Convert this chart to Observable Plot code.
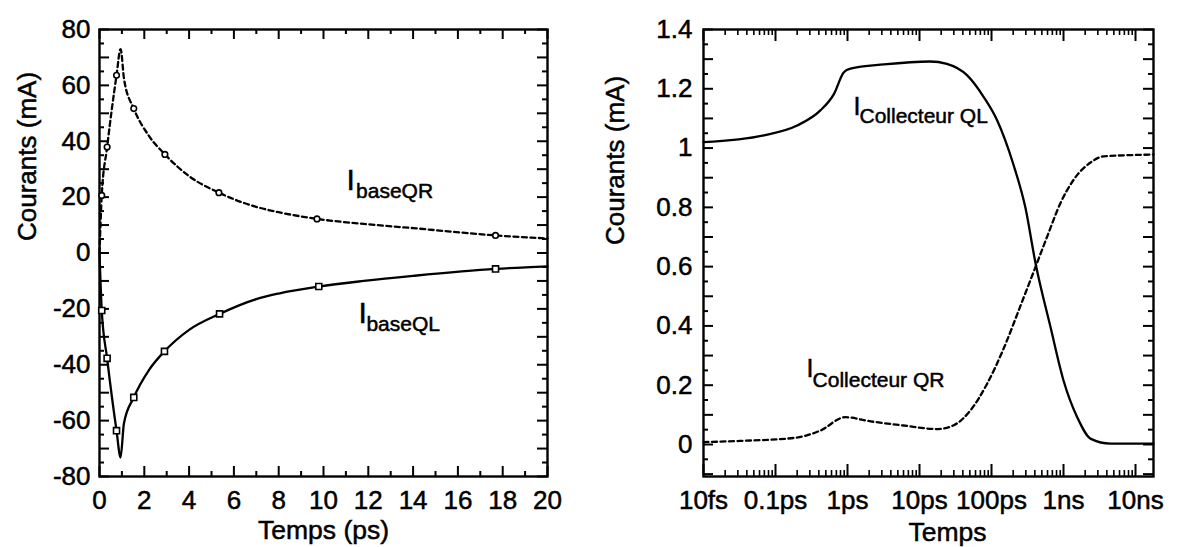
<!DOCTYPE html>
<html><head><meta charset="utf-8">
<script src="https://cdn.jsdelivr.net/npm/d3@7"></script>
<script src="https://cdn.jsdelivr.net/npm/@observablehq/plot@0.6"></script>
<style>
body{margin:0;background:#fff;}
#wrap{display:flex;width:1179px;height:547px;overflow:hidden;}
svg text{stroke:black;stroke-width:0.5px;}
</style></head><body><div id="wrap"></div>
<script>
// ---------- Left panel data (Temps in ps, Courants in mA) ----------
const qrLineX = [0, 0.1, 0.34, 0.76, 0.94, 1.1, 1.53, 2.2, 2.92, 4.0, 5.33, 7.0, 8.0, 9.71, 11.8, 14.0, 17.68, 20];
const qrLineY = [0, 20.6, 37.9, 63.6, 73.0, 62.0, 51.7, 42.0, 35.3, 27.5, 21.6, 16.5, 14.6, 12.2, 10.4, 8.9, 6.3, 5.2];
const qlLineX = [0, 0.1, 0.34, 0.76, 0.94, 1.09, 1.53, 2.2, 2.9, 4.0, 5.36, 7.0, 8.0, 9.79, 11.8, 14.0, 17.68, 20];
const qlLineY = [0, -20.6, -37.7, -63.6, -73.2, -61.0, -51.7, -42.0, -35.2, -27.5, -21.8, -16.5, -14.5, -12.0, -10.0, -8.2, -5.7, -4.8];
const qrMarkX = [0.1, 0.34, 0.76, 1.53, 2.92, 5.33, 9.71, 17.68];
const qrMarkY = [20.6, 37.9, 63.6, 51.7, 35.3, 21.6, 12.2, 6.3];
const qlMarkX = [0.1, 0.34, 0.76, 1.53, 2.9, 5.36, 9.79, 17.68];
const qlMarkY = [-20.6, -37.7, -63.6, -51.7, -35.2, -21.8, -12.0, -5.7];
const leftXTicks = [0, 2, 4, 6, 8, 10, 12, 14, 16, 18, 20];
const leftYTicks = [-80, -60, -40, -20, 0, 20, 40, 60, 80];

// ---------- Right panel data (Temps in s, Courants in mA) ----------
const colQLT = [1e-14, 6.9e-14, 2.0e-13, 4.2e-13, 6.5e-13, 8.9e-13, 1.1e-12, 3.2e-12, 1.4e-11, 2.4e-11, 4.6e-11, 7.8e-11, 1.2e-10, 2.0e-10, 2.95e-10, 4.1e-10, 6.6e-10, 1.0e-9, 1.55e-9, 2.4e-9, 4.5e-9, 1.778e-8];
const colQLI = [1.02, 1.043, 1.076, 1.127, 1.183, 1.256, 1.268, 1.282, 1.292, 1.284, 1.245, 1.172, 1.093, 0.947, 0.80, 0.61, 0.396, 0.216, 0.092, 0.019, 0.003, 0.003];
const colQRT = [1e-14, 3.2e-14, 1.8e-13, 4.2e-13, 9.3e-13, 2.1e-12, 6.0e-12, 1.8e-11, 3.0e-11, 5.1e-11, 8.7e-11, 1.5e-10, 2.5e-10, 4.1e-10, 5.9e-10, 9.1e-10, 1.4e-9, 2.4e-9, 3.6e-9, 1.778e-8];
const colQRI = [0.008, 0.012, 0.022, 0.047, 0.092, 0.078, 0.064, 0.052, 0.065, 0.115, 0.205, 0.328, 0.465, 0.60, 0.70, 0.815, 0.895, 0.952, 0.972, 0.978];
const rightXTicks = [1e-14, 1e-13, 1e-12, 1e-11, 1e-10, 1e-9, 1e-8];
const rightXLabels = ["10fs", "0.1ps", "1ps", "10ps", "100ps", "1ns", "10ns"];
const rightYTicks = [0, 0.2, 0.4, 0.6, 0.8, 1, 1.2, 1.4];

const zip = (xs, ys) => xs.map((x, i) => ({x, y: ys[i]}));
const FONT = "Liberation Sans, Arial, Helvetica, sans-serif";
const FS = 26;
const H = 547, MT = 29, MB = 71, FH = H - MT - MB;
const LINEW = 2.3, DASH = "5,3.5";

// ---------- Left plot ----------
const LW = 590, LML = 99, LMR = 43, LFW = LW - LML - LMR;
const lxMaj = d3.range(0, 21, 2), lxMin = d3.range(1, 20, 2);
const lyMaj = d3.range(-80, 81, 10), lyMin = d3.range(-75, 80, 10);
const tickStyle = {stroke: "black", strokeWidth: 2};

const left = Plot.plot({
  width: LW, height: H, marginLeft: LML, marginRight: LMR, marginTop: MT, marginBottom: MB,
  style: {fontFamily: FONT, fontSize: FS + "px", background: "white", color: "black", overflow: "visible"},
  x: {domain: [0, 20]},
  y: {domain: [-80, 80]},
  marks: [
    Plot.ruleX(lxMaj, {...tickStyle, insetTop: FH - 10}),
    Plot.ruleX(lxMin, {...tickStyle, insetTop: FH - 5}),
    Plot.ruleX(lxMaj, {...tickStyle, insetBottom: FH - 10}),
    Plot.ruleX(lxMin, {...tickStyle, insetBottom: FH - 5}),
    Plot.ruleY(lyMaj, {...tickStyle, insetRight: LFW - 10}),
    Plot.ruleY(lyMin, {...tickStyle, insetRight: LFW - 5}),
    Plot.ruleY(lyMaj, {...tickStyle, insetLeft: LFW - 10}),
    Plot.ruleY(lyMin, {...tickStyle, insetLeft: LFW - 5}),
    Plot.frame({stroke: "black", strokeWidth: 2.4}),
    Plot.axisX({ticks: leftXTicks, tickSize: 0, tickPadding: 14, tickFormat: d => String(d), fontSize: FS, label: null}),
    Plot.axisY({ticks: leftYTicks, tickSize: 0, tickPadding: 9, tickFormat: d => String(d), fontSize: FS, label: null}),
    Plot.line(zip(qrLineX, qrLineY), {x: "x", y: "y", curve: "monotone-x", stroke: "black", strokeWidth: LINEW, strokeDasharray: DASH}),
    Plot.line(zip(qlLineX, qlLineY), {x: "x", y: "y", curve: "monotone-x", stroke: "black", strokeWidth: LINEW}),
    Plot.dot(zip(qrMarkX, qrMarkY), {x: "x", y: "y", r: 2.8, stroke: "black", strokeWidth: 1.6, fill: "white"}),
    Plot.dot(zip(qlMarkX, qlMarkY), {x: "x", y: "y", r: 3.4, symbol: "square", stroke: "black", strokeWidth: 1.6, fill: "white"}),
    Plot.text(["Temps (ps)"], {text: d => d, frameAnchor: "bottom", lineAnchor: "top", dy: 44, fontSize: 26.5}),
    Plot.text(["Courants (mA)"], {text: d => d, frameAnchor: "left", rotate: -90, lineAnchor: "top", dx: -82, dy: -12, fontSize: 26}),
    Plot.text([{x: 11.03, y: 22.4}], {x: "x", y: "y", text: () => "I", textAnchor: "start", lineAnchor: "bottom", fontSize: 30}),
    Plot.text([{x: 11.03, y: 22.4}], {x: "x", y: "y", text: () => "baseQR", textAnchor: "start", lineAnchor: "bottom", fontSize: 21, dx: 9.5, dy: 8}),
    Plot.text([{x: 11.56, y: -24.9}], {x: "x", y: "y", text: () => "I", textAnchor: "start", lineAnchor: "bottom", fontSize: 30}),
    Plot.text([{x: 11.56, y: -24.9}], {x: "x", y: "y", text: () => "baseQL", textAnchor: "start", lineAnchor: "bottom", fontSize: 21, dx: 8, dy: 8})
  ]
});

// ---------- Right plot ----------
const RW = 589, RML = 113, RMR = 26, RFW = RW - RML - RMR;
const rxMin = [];
for (let n = -14; n <= -9; n++) for (let k = 2; k <= 9; k++) rxMin.push(k * Math.pow(10, n));
const ryMaj = d3.range(-1, 15).map(v => +(v / 10).toFixed(1));
const ryMin = d3.range(-1, 14).map(v => +((v + 0.5) / 10).toFixed(2));
const xLabelMap = new Map(rightXTicks.map((v, i) => [v, rightXLabels[i]]));

const right = Plot.plot({
  width: RW, height: H, marginLeft: RML, marginRight: RMR, marginTop: MT, marginBottom: MB,
  style: {fontFamily: FONT, fontSize: FS + "px", background: "white", color: "black", overflow: "visible"},
  x: {type: "log", domain: [1e-14, 1.778e-8]},
  y: {domain: [-0.108, 1.4]},
  marks: [
    Plot.ruleX(rightXTicks, {...tickStyle, insetTop: FH - 12}),
    Plot.ruleX(rxMin, {...tickStyle, strokeWidth: 1.6, insetTop: FH - 6}),
    Plot.ruleX(rightXTicks, {...tickStyle, insetBottom: FH - 12}),
    Plot.ruleX(rxMin, {...tickStyle, strokeWidth: 1.6, insetBottom: FH - 6}),
    Plot.ruleY(ryMaj, {...tickStyle, insetRight: RFW - 10}),
    Plot.ruleY(ryMin, {...tickStyle, insetRight: RFW - 5}),
    Plot.ruleY(ryMaj, {...tickStyle, insetLeft: RFW - 10}),
    Plot.ruleY(ryMin, {...tickStyle, insetLeft: RFW - 5}),
    Plot.frame({stroke: "black", strokeWidth: 2.4}),
    Plot.axisX({ticks: rightXTicks, tickSize: 0, tickPadding: 14, tickFormat: d => xLabelMap.get(d), fontSize: FS, label: null}),
    Plot.axisY({ticks: rightYTicks, tickSize: 0, tickPadding: 11, tickFormat: d => String(d), fontSize: FS, label: null}),
    Plot.line(zip(colQRT, colQRI), {x: "x", y: "y", curve: "monotone-x", stroke: "black", strokeWidth: LINEW, strokeDasharray: DASH}),
    Plot.line(zip(colQLT, colQLI), {x: "x", y: "y", curve: "monotone-x", stroke: "black", strokeWidth: LINEW}),
    Plot.text(["Temps"], {text: d => d, frameAnchor: "bottom", lineAnchor: "top", dx: 19, dy: 46, fontSize: 26.5}),
    Plot.text(["Courants (mA)"], {text: d => d, frameAnchor: "left", rotate: -90, lineAnchor: "top", dx: -98, dy: -8, fontSize: 26}),
    Plot.text([{x: 1.21e-12, y: 1.11}], {x: "x", y: "y", text: () => "I", textAnchor: "start", lineAnchor: "bottom", fontSize: 25}),
    Plot.text([{x: 1.21e-12, y: 1.11}], {x: "x", y: "y", text: () => "Collecteur QL", textAnchor: "start", lineAnchor: "bottom", fontSize: 21, dx: 6, dy: 8}),
    Plot.text([{x: 2.7e-13, y: 0.226}], {x: "x", y: "y", text: () => "I", textAnchor: "start", lineAnchor: "bottom", fontSize: 25}),
    Plot.text([{x: 2.7e-13, y: 0.226}], {x: "x", y: "y", text: () => "Collecteur QR", textAnchor: "start", lineAnchor: "bottom", fontSize: 21, dx: 6, dy: 10})
  ]
});

document.getElementById("wrap").append(left, right);
</script>
</body></html>
